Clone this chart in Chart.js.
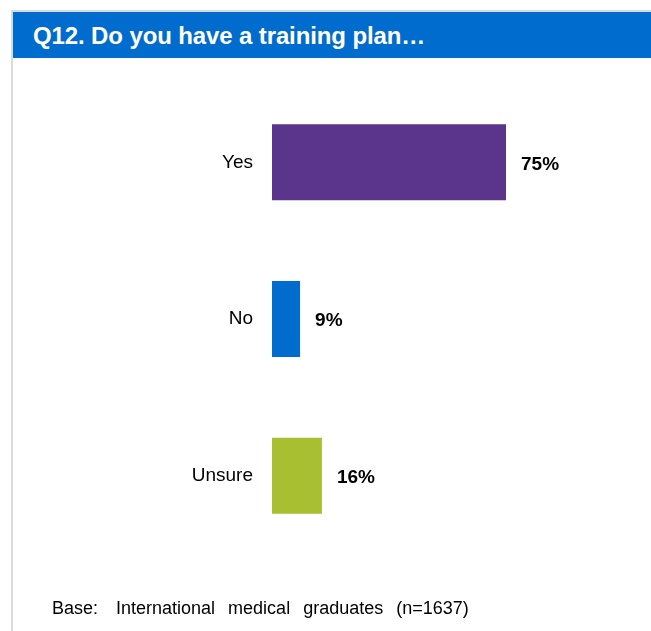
<!DOCTYPE html>
<html><head><meta charset="utf-8">
<script src="https://cdn.jsdelivr.net/npm/chart.js@4/dist/chart.umd.min.js"></script>
<style>
html,body{margin:0;padding:0;background:#fff;width:651px;height:631px;overflow:hidden;font-family:"Liberation Sans",Arial,sans-serif;}
#frame{position:absolute;left:11px;top:10px;width:660px;height:640px;border-left:2px solid #dadada;border-top:2px solid #dadada;}
#hdr{position:absolute;left:13px;top:12px;width:638px;height:46px;background:#006CCE;}
#title{position:absolute;left:33px;top:22px;color:#fff;font-weight:bold;font-size:24px;letter-spacing:-0.12px;white-space:nowrap;}
#base{position:absolute;left:52px;top:598px;font-size:18px;color:#000;white-space:nowrap;word-spacing:8px;}
#base span{margin-right:5px;}
#c{position:absolute;left:0;top:0;}
</style></head>
<body>
<div id="frame"></div>
<div id="hdr"></div>
<div id="title">Q12. Do you have a training plan…</div>
<canvas id="c" width="651" height="631"></canvas>
<div id="base"><span>Base:</span> International medical graduates (n=1637)</div>
<script>
const categories = ["Yes", "No", "Unsure"];
const values = [75, 9, 16];
const barColors = ["#5A358B", "#006CCE", "#A7BF30"];

const valueLabels = {
  id: 'valueLabels',
  afterDatasetsDraw(chart) {
    const ctx = chart.ctx;
    const meta = chart.getDatasetMeta(0);
    ctx.save();
    ctx.font = 'bold 19px "Liberation Sans", Arial, sans-serif';
    ctx.fillStyle = '#000';
    ctx.textAlign = 'left';
    ctx.textBaseline = 'middle';
    meta.data.forEach((bar, i) => {
      ctx.fillText(values[i] + '%', bar.x + 15, bar.y + 2);
    });
    ctx.restore();
  }
};

new Chart(document.getElementById('c'), {
  type: 'bar',
  data: {
    labels: categories,
    datasets: [{ data: values, backgroundColor: barColors, borderWidth: 0, barPercentage: 0.97, categoryPercentage: 0.5 }]
  },
  options: {
    indexAxis: 'y',
    responsive: false,
    animation: false,
    layout: { padding: { left: 0, right: 67, top: 84, bottom: 77 } },
    plugins: { legend: { display: false }, tooltip: { enabled: false } },
    scales: {
      x: { display: false, min: 0, max: 100 },
      y: {
        grid: { display: false, drawTicks: false },
        border: { display: false },
        ticks: { color: '#000', padding: 19, font: { family: '"Liberation Sans", Arial, sans-serif', size: 19 } },
        afterFit(scale) { scale.width = 272; }
      }
    }
  },
  plugins: [valueLabels]
});
</script>
</body></html>
